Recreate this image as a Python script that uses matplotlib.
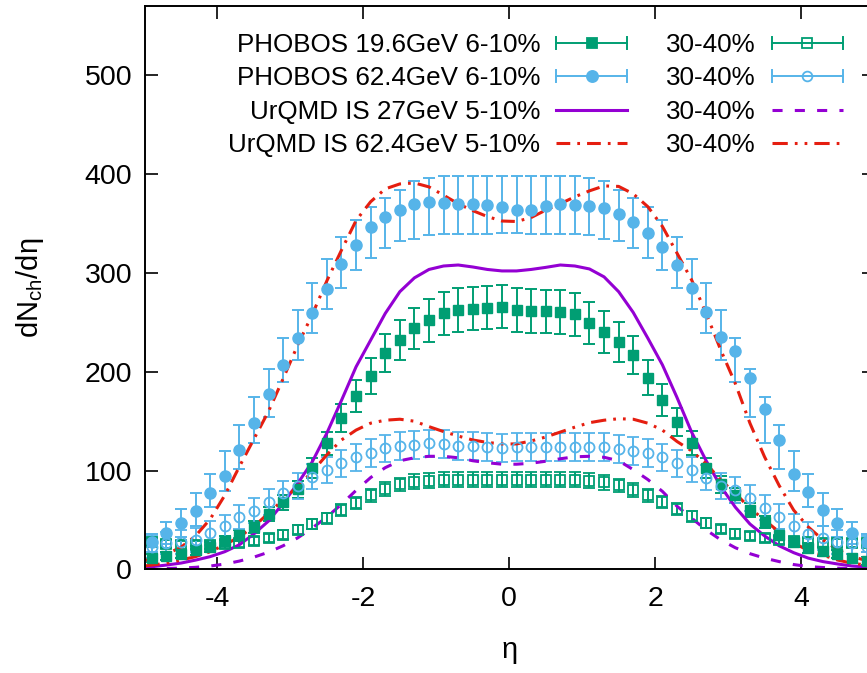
import matplotlib
matplotlib.use('Agg')
import matplotlib.pyplot as plt
import numpy as np
from matplotlib.lines import Line2D
from matplotlib.legend_handler import HandlerBase

plt.rcParams['font.family'] = ['Liberation Sans', 'DejaVu Sans']
plt.rcParams['mathtext.fontset'] = 'custom'
plt.rcParams['mathtext.rm'] = 'Liberation Sans'
plt.rcParams['mathtext.it'] = 'Liberation Sans:italic'
plt.rcParams['axes.unicode_minus'] = False

GREEN = '#009E73'
BLUE = '#56B4E9'
PURPLE = '#9400D3'
RED = '#E51E10'

# ---------------- data ----------------
eta_exp = [-4.9, -4.7, -4.5, -4.3, -4.1, -3.9, -3.7, -3.5, -3.3, -3.1,
           -2.9, -2.7, -2.5, -2.3, -2.1, -1.9, -1.7, -1.5, -1.3, -1.1,
           -0.9, -0.7, -0.5, -0.3, -0.1, 0.1, 0.3, 0.5, 0.7, 0.9,
           1.1, 1.3, 1.5, 1.7, 1.9, 2.1, 2.3, 2.5, 2.7, 2.9,
           3.1, 3.3, 3.5, 3.7, 3.9, 4.1, 4.3, 4.5, 4.7, 4.9]

# PHOBOS 19.6 GeV 6-10%
p19_c = [12, 14, 16, 19.5, 23, 28.5, 34.5, 43, 56, 68,
         81, 103, 127.5, 153, 175.5, 196, 219, 232, 244, 252,
         259, 262.5, 264, 265, 266, 262.5, 261.5, 261, 260.5, 258,
         249.5, 240, 230, 217, 194, 171.5, 149.5, 128, 103, 86,
         75, 60, 48, 35, 27.5, 22, 18.5, 15.5, 12, 9]
p19_c_err = [4, 4, 4, 4.5, 5, 5, 5.5, 6, 7, 7.5,
             8.5, 10, 12, 14, 16, 18, 19, 20, 21, 21.5,
             22, 22, 22, 22, 22, 22, 22, 22, 22, 22,
             21.5, 21, 20, 19, 18, 16, 14, 12, 10, 8.5,
             7.5, 7, 6, 5.5, 5, 5, 4.5, 4, 4, 4]

# PHOBOS 19.6 GeV 30-40%
p19_p = [28, 26, 25, 25, 25, 26, 27, 29, 32, 35,
         40, 46, 52, 60, 67, 75, 81, 86, 89, 90,
         91, 91, 91, 91, 91, 91, 91, 91, 91, 91,
         90, 88, 85, 80, 75, 68, 61, 54, 47, 41,
         36, 34, 32, 30, 29, 28, 27, 27, 27, 27]
p19_p_err = [4, 4, 4, 4, 4, 4, 4, 4, 4, 4.5,
             4.5, 5, 5.5, 6, 6, 6.5, 7, 7, 7.5, 7.5,
             7.5, 7.5, 7.5, 7.5, 7.5, 7.5, 7.5, 7.5, 7.5, 7.5,
             7.5, 7.5, 7, 7, 6.5, 6, 6, 5.5, 5, 4.5,
             4.5, 4, 4, 4, 4, 4, 4, 4, 4, 4]

# PHOBOS 62.4 GeV 6-10% (marker value, error bar top, error bar bottom)
p62_c = [28, 37, 47, 59, 77, 95, 121, 148, 178, 207,
         234, 259, 284, 309, 328, 346, 357, 364, 370, 372,
         371, 370, 370, 369, 367, 364, 364, 368, 370, 369,
         368, 366, 360, 351, 340, 326, 308, 285, 260, 235,
         221, 194, 162, 131, 97, 78, 60, 47, 37, 28]
p62_c_top = [36, 48, 61, 77, 97, 120, 146, 174, 203, 234,
             262, 290, 314.5, 336.5, 354, 367, 376, 384, 393, 396,
             398, 398, 398, 398, 398, 398, 398, 398, 398, 398,
             396, 393, 384, 376, 367, 354, 336.5, 314.5, 290, 262,
             234, 203, 174, 146, 120, 97, 77, 61, 48, 36]
p62_c_bot = [18, 26, 33, 44, 63.5, 79, 102, 127.6, 154.5, 190,
             212, 239, 264, 285, 303, 315, 325, 332, 334, 338,
             339, 339, 339, 339, 340, 340, 339, 339, 339, 339,
             338, 334, 332, 325, 315, 303, 285, 264, 239, 212,
             190, 154.5, 127.6, 102, 79, 63.5, 44, 33, 26, 18]

# PHOBOS 62.4 GeV 30-40%
p62_p = [23, 26.5, 27.5, 30, 37, 43.5, 53, 59.5, 68.5, 77,
         84.5, 94, 100.5, 107.5, 113.5, 118, 122.5, 125, 126, 127.5,
         127, 125, 125, 124, 123, 124, 124, 124, 124, 124,
         124, 124, 122, 120, 117.5, 113.5, 107.5, 101, 93, 84.5,
         80.5, 72, 62.5, 53.5, 44, 36, 31.5, 28, 27, 23]
p62_p_err = [11, 11, 12, 12, 12, 12, 12.5, 12.5, 13, 13,
             13, 13, 13, 13.5, 13.5, 14, 14, 14, 14, 14,
             14, 14, 14, 14, 14, 14, 14, 14, 14, 14,
             14, 14, 14, 14, 14, 13.5, 13.5, 13, 13, 13,
             13, 13, 12.5, 12.5, 12, 12, 12, 12, 11, 11]

# UrQMD curves
eta_model = [-5.0, -4.9, -4.7, -4.5, -4.3, -4.1, -3.9, -3.7, -3.5, -3.3, -3.1,
             -2.9, -2.7, -2.5, -2.3, -2.1, -1.9, -1.7, -1.5, -1.3, -1.1,
             -0.9, -0.7, -0.5, -0.3, -0.1, 0.1, 0.3, 0.5, 0.7, 0.9,
             1.1, 1.3, 1.5, 1.7, 1.9, 2.1, 2.3, 2.5, 2.7, 2.9,
             3.1, 3.3, 3.5, 3.7, 3.9, 4.1, 4.3, 4.5, 4.7, 4.9, 5.0]

u27_c = [2, 2.8, 4.5, 6.5, 9.5, 13, 18, 25, 36, 49, 67,
         87, 109, 138, 171, 205, 232, 259, 281, 295, 303.5,
         307, 308, 306, 303.5, 302, 302, 303.5, 305.6, 308, 307,
         304, 296, 281, 260, 234, 207, 174, 139, 110, 84,
         63, 46, 34, 24, 17, 11.5, 8, 5.6, 3.5, 2.5, 2]
u27_p = [0.5, 0.7, 1, 1.4, 2.2, 3.5, 5.5, 8.5, 12.5, 17.5, 24,
         32, 42, 53, 66, 80, 93, 103, 110, 113, 114.5,
         114.5, 113, 110, 108, 106.5, 106.5, 107.5, 109.5, 112, 114,
         114.5, 113.5, 110, 101, 91, 79, 64, 52, 40, 30,
         22, 16, 11.5, 8, 5, 3, 2, 1.3, 0.9, 0.6, 0.5]
u62_c = [9, 11, 15.5, 22.5, 34, 51, 75, 104, 132, 160, 193,
         227, 258, 292, 323, 353, 372, 385, 390, 391, 387,
         378.6, 370, 363, 357, 352.5, 352, 356, 363.5, 370, 377,
         383, 388, 387.5, 380, 367, 347, 320, 293, 259, 222,
         188, 148, 114, 85, 60, 43, 30, 20, 13, 9, 7.5]
u62_p = [3.5, 4.5, 6.3, 9.6, 13, 18, 25, 33, 43.5, 57, 70.5,
         84, 99, 116, 131, 141, 148, 151, 152, 150, 144.5,
         139.5, 135, 131, 128.5, 127, 127, 130, 134, 139, 144,
         148.5, 151, 152.5, 152, 148, 141, 129.5, 120, 107, 90.5,
         77, 62, 50, 38, 26.5, 19.5, 14.5, 9.6, 6.3, 4.5, 3.5]

labels = ['PHOBOS 19.6GeV 6-10%', 'PHOBOS 62.4GeV 6-10%',
          'UrQMD IS 27GeV 5-10%', 'UrQMD IS 62.4GeV 5-10%',
          '30-40%', '30-40%', '30-40%', '30-40%']

# ---------------- figure ----------------
fig = plt.figure(figsize=(8.67, 6.73), dpi=100)
ax = fig.add_axes([0.1667, 0.1538, 1.008 - 0.1667, 0.8373])

eb_kw = dict(linestyle='none', elinewidth=1.4, capsize=4.3, capthick=1.4)

ax.errorbar(eta_exp, p19_c, yerr=p19_c_err, marker='s', ms=7, color=GREEN,
            mec=GREEN, mfc=GREEN, **eb_kw)
ax.errorbar(eta_exp, p19_p, yerr=p19_p_err, marker='s', ms=6.8, color=GREEN,
            mec=GREEN, mfc='none', mew=1.3, **eb_kw)
c = np.array(p62_c)
err_lo = np.clip(c - np.array(p62_c_bot), 0, None)
err_hi = np.clip(np.array(p62_c_top) - c, 0, None)
ax.errorbar(eta_exp, p62_c, yerr=[err_lo, err_hi], marker='o', ms=8, color=BLUE,
            mec=BLUE, mfc=BLUE, **eb_kw)
ax.errorbar(eta_exp, p62_p, yerr=p62_p_err, marker='o', ms=7.2, color=BLUE,
            mec=BLUE, mfc='none', mew=1.3, **eb_kw)

LW = 2.2
DASH = (0, (3.3, 4))
DASHDOT = (0, (4.5, 2.3, 0.9, 2.3))
DASHDOTDOT = (0, (5, 2.3, 0.9, 2.3, 0.9, 2.3))
ax.plot(eta_model, u27_c, color=PURPLE, lw=LW)
ax.plot(eta_model, u27_p, color=PURPLE, lw=LW, linestyle=DASH)
ax.plot(eta_model, u62_c, color=RED, lw=LW, linestyle=DASHDOT)
ax.plot(eta_model, u62_p, color=RED, lw=LW, linestyle=DASHDOTDOT)

ax.set_xlim(-5, 5)
ax.set_ylim(0, 570)
ax.set_xticks([-4, -2, 0, 2, 4])
ax.set_yticks([0, 100, 200, 300, 400, 500])
ax.tick_params(direction='in', length=9, width=1.2, top=True, right=True,
               labelsize=20.5, pad=9)
ax.tick_params(axis='x', pad=12)
for s in ax.spines.values():
    s.set_linewidth(1.4)

ax.set_xlabel('η', fontsize=21, labelpad=17)
ax.set_ylabel(r'dN$_{\mathrm{ch}}$/dη', fontsize=21, labelpad=28)


# ---------------- legend ----------------
class HandlerGP(HandlerBase):
    def create_artists(self, legend, orig_handle, xdescent, ydescent,
                       width, height, fontsize, trans):
        y = 0.5 * height - ydescent
        x0 = -xdescent
        x1 = x0 + width
        col = orig_handle.get_color()
        h = 4.3
        arts = [Line2D([x0, x1], [y, y], color=col, lw=1.4),
                Line2D([x0, x0], [y - h, y + h], color=col, lw=1.4),
                Line2D([x1, x1], [y - h, y + h], color=col, lw=1.4),
                Line2D([0.5 * (x0 + x1)], [y], marker=orig_handle.get_marker(),
                       ms=orig_handle.get_markersize(), mfc=orig_handle.get_markerfacecolor(),
                       mec=col, mew=1.3, linestyle='none')]
        for a in arts:
            a.set_transform(trans)
        return arts


h19c = Line2D([], [], color=GREEN, marker='s', ms=7, mfc=GREEN)
h19p = Line2D([], [], color=GREEN, marker='s', ms=6.5, mfc='none')
h62c = Line2D([], [], color=BLUE, marker='o', ms=8, mfc=BLUE)
h62p = Line2D([], [], color=BLUE, marker='o', ms=7, mfc='none')
hu27c = Line2D([], [], color=PURPLE, lw=LW)
hu27p = Line2D([], [], color=PURPLE, lw=LW, linestyle=DASH)
hu62c = Line2D([], [], color=RED, lw=LW, linestyle=DASHDOT)
hu62p = Line2D([], [], color=RED, lw=LW, linestyle=DASHDOTDOT)

handles = [h19c, h62c, hu27c, hu62c, h19p, h62p, hu27p, hu62p]
hmap = {h19c: HandlerGP(), h19p: HandlerGP(), h62c: HandlerGP(), h62p: HandlerGP()}

leg = ax.legend(handles, labels, ncol=2, markerfirst=False, frameon=False,
                fontsize=18.7, handlelength=2.75, handletextpad=0.6,
                columnspacing=1.5, labelspacing=0.36, loc='upper right',
                bbox_to_anchor=(843 / 867, 1 - 33 / 673),
                bbox_transform=fig.transFigure, borderpad=0, borderaxespad=0,
                handler_map=hmap)

fig.savefig('out.png', dpi=100)
